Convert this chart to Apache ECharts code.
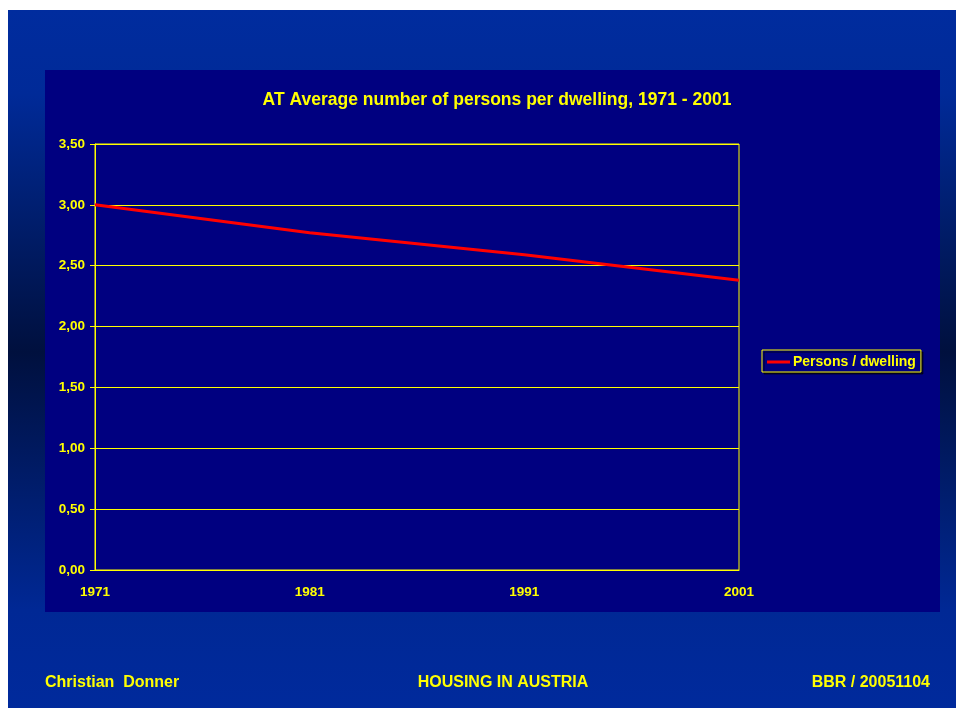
<!DOCTYPE html>
<html>
<head>
<meta charset="utf-8">
<title>AT Average number of persons per dwelling, 1971 - 2001</title>
<script src="https://cdn.jsdelivr.net/npm/echarts@6/dist/echarts.min.js"></script>
<style>
  html, body { margin: 0; padding: 0; background: #ffffff; }
  #chart { width: 956px; height: 708px; }
</style>
</head>
<body>
<div id="chart"></div>
<script>
// Census years and average number of persons per dwelling in Austria
const years = ['1971', '1981', '1991', '2001'];
const personsPerDwelling = [3.00, 2.77, 2.59, 2.38];
const seriesName = 'Persons / dwelling';
const chartTitle = 'AT Average number of persons per dwelling, 1971 - 2001';
const footerLeft = 'Christian  Donner';
const footerCenter = 'HOUSING IN AUSTRIA';
const footerRight = 'BBR / 20051104';

const YELLOW = '#ffff00';
const FONT = 'Arial, "Liberation Sans", sans-serif';

const chart = echarts.init(document.getElementById('chart'), null, { renderer: 'canvas' });

const footerStyle = {
  fill: YELLOW,
  font: 'bold 16px ' + FONT,
  textShadowColor: 'rgba(0,0,0,0.85)',
  textShadowOffsetX: 1.5,
  textShadowOffsetY: 1.5,
  textShadowBlur: 0
};

chart.setOption({
  backgroundColor: '#ffffff',
  animation: false,
  graphic: [
    {
      type: 'rect', z: -10, silent: true,
      shape: { x: 8, y: 10, width: 948, height: 698 },
      style: {
        fill: new echarts.graphic.LinearGradient(0, 0, 0, 1, [
          { offset: 0, color: '#002c9e' },
          { offset: 0.12, color: '#002a98' },
          { offset: 0.49, color: '#00103e' },
          { offset: 0.86, color: '#002895' },
          { offset: 1, color: '#002a9c' }
        ])
      }
    },
    {
      type: 'rect', z: -9, silent: true,
      shape: { x: 45, y: 70, width: 895, height: 542 },
      style: { fill: '#000080' }
    },
    {
      type: 'text', silent: true,
      x: 45, y: 675,
      style: Object.assign({ text: footerLeft, textAlign: 'left' }, footerStyle)
    },
    {
      type: 'text', silent: true,
      x: 503, y: 675,
      style: Object.assign({ text: footerCenter, textAlign: 'center' }, footerStyle)
    },
    {
      type: 'text', silent: true,
      x: 930, y: 675,
      style: Object.assign({ text: footerRight, textAlign: 'right' }, footerStyle)
    }
  ],
  title: {
    text: chartTitle,
    left: 492, top: 86,
    textAlign: 'center',
    textStyle: { color: YELLOW, fontFamily: FONT, fontWeight: 'bold', fontSize: 17.5 }
  },
  legend: {
    data: [seriesName],
    left: 762, top: 350,
    orient: 'vertical',
    padding: [5, 5, 3, 5],
    itemWidth: 23, itemHeight: 12, itemGap: 4,
    borderColor: YELLOW, borderWidth: 1,
    shadowColor: 'rgba(0,0,0,0.6)', shadowOffsetX: 2, shadowOffsetY: 2, shadowBlur: 0,
    backgroundColor: '#000080',
    icon: 'path://M0,5 L23,5 L23,8 L0,8 Z',
    textStyle: {
      color: YELLOW, fontFamily: FONT, fontWeight: 'bold', fontSize: 14,
      padding: [0, 0, 0, -2],
      textShadowColor: 'rgba(0,0,0,0.8)', textShadowOffsetX: 1, textShadowOffsetY: 1
    }
  },
  grid: {
    left: 95, right: 217, top: 144, bottom: 138,
    show: true, borderColor: YELLOW, borderWidth: 1,
    backgroundColor: 'transparent', containLabel: false
  },
  xAxis: {
    type: 'category',
    data: years,
    boundaryGap: false,
    axisLine: { show: true, lineStyle: { color: YELLOW, width: 1 } },
    axisTick: { show: false },
    axisLabel: {
      color: YELLOW, fontFamily: FONT, fontWeight: 'bold', fontSize: 13.5, margin: 15
    },
    splitLine: { show: false }
  },
  yAxis: {
    type: 'value',
    min: 0, max: 3.5, interval: 0.5,
    axisLine: { show: true, lineStyle: { color: YELLOW, width: 1 } },
    axisTick: { show: true, length: 5, lineStyle: { color: YELLOW } },
    axisLabel: {
      color: YELLOW, fontFamily: FONT, fontWeight: 'bold', fontSize: 13.5, margin: 10,
      formatter: v => v.toFixed(2).replace('.', ',')
    },
    splitLine: { show: true, lineStyle: { color: YELLOW, width: 1 } }
  },
  series: [{
    name: seriesName,
    type: 'line',
    data: personsPerDwelling,
    symbol: 'none',
    lineStyle: { color: '#ff0000', width: 3 },
    itemStyle: { color: '#ff0000' }
  }]
});
</script>
</body>
</html>
